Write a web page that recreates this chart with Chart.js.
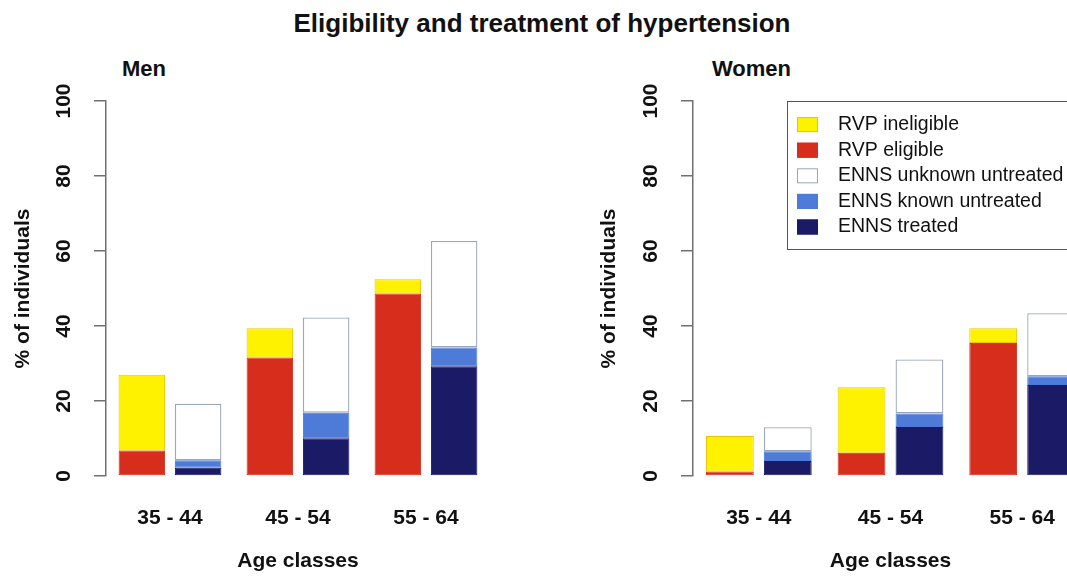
<!DOCTYPE html>
<html>
<head>
<meta charset="utf-8">
<script src="https://cdn.jsdelivr.net/npm/chart.js@4.4.1/dist/chart.umd.min.js"></script>
<style>
  html, body { margin: 0; padding: 0; background: #fff; }
  body { position: relative; width: 1067px; height: 576px; overflow: hidden;
         font-family: "Liberation Sans", Arial, sans-serif; color: #111; }
  .title { position: absolute; left: 0; width: 1084px; top: 10px; text-align: center;
           font-weight: bold; font-size: 26px; line-height: 1; }
  .panel { position: absolute; top: 58px; font-weight: bold; font-size: 22px; line-height: 1; }
  canvas { position: absolute; top: 0; }
</style>
</head>
<body>
<div class="title">Eligibility and treatment of hypertension</div>
<div class="panel" style="left:122px">Men</div>
<div class="panel" style="left:712px">Women</div>
<canvas id="menChart" width="490" height="576" style="left:0"></canvas>
<canvas id="womenChart" width="501" height="576" style="left:587px"></canvas>
<script>
// Data (% of individuals)
const ageClasses = ['35 - 44', '45 - 54', '55 - 64'];
const yTicks = [0, 20, 40, 60, 80, 100];

const menRvpEligible = [6.8, 31.6, 48.7];
const menRvpIneligible = [20.2, 7.8, 3.8];
const menEnnsTreated = [2.2, 10.1, 29.3];
const menEnnsKnown = [2.0, 6.8, 5.0];
const menEnnsUnknown = [15.1, 25.4, 28.4];

const womenRvpEligible = [1.2, 6.2, 35.5];
const womenRvpIneligible = [9.5, 17.5, 3.9];
const womenEnnsTreated = [4.0, 13.1, 24.3];
const womenEnnsKnown = [2.6, 3.6, 2.3];
const womenEnnsUnknown = [6.4, 14.4, 16.8];

// series, bottom of each stack first
const seriesNames = ['RVP eligible', 'RVP ineligible', 'ENNS treated', 'ENNS known untreated', 'ENNS unknown untreated'];
const seriesStacks = ['RVP', 'RVP', 'ENNS', 'ENNS', 'ENNS'];
const seriesColors = ['#d62d1c', '#fff200', '#1b1a66', '#4e7bd8', '#ffffff'];
const seriesBorders = ['#d62d1c', '#ecc400', '#1b1a66', '#4e7bd8', '#9aa6bd'];
const legendOrder = [1, 0, 4, 3, 2];

Chart.defaults.font.family = "'Liberation Sans', Arial, sans-serif";
Chart.defaults.color = '#111';

const axisGrey = '#707070';

// legend box drawn inside the plot, like R's legend()
const boxLegend = {
  id: 'boxLegend',
  afterDraw(chart, args, o) {
    if (!o.show) return;
    const ctx = chart.ctx;
    const x0 = o.x;
    const y0 = chart.chartArea.top;
    ctx.save();
    ctx.lineWidth = 1;
    ctx.strokeStyle = '#555';
    ctx.strokeRect(x0 + 0.5, y0 + 0.5, o.width, o.height);
    ctx.font = o.font;
    ctx.textBaseline = 'middle';
    legendOrder.forEach((di, k) => {
      const ds = chart.data.datasets[di];
      const cy = y0 + o.firstRow + k * o.rowGap;
      ctx.fillStyle = ds.backgroundColor;
      ctx.fillRect(x0 + o.swatchX, cy - 7.5, 21, 15);
      ctx.strokeStyle = ds.borderColor;
      ctx.strokeRect(x0 + o.swatchX + 0.5, cy - 7, 20, 14);
      ctx.fillStyle = '#111';
      ctx.fillText(ds.label, x0 + o.textX, cy);
    });
    ctx.restore();
  }
};

function makeChart(id, values, yTitlePad, legend) {
  return new Chart(document.getElementById(id), {
    type: 'bar',
    data: {
      labels: ageClasses,
      datasets: values.map((v, i) => ({
        label: seriesNames[i],
        data: v,
        stack: seriesStacks[i],
        backgroundColor: seriesColors[i],
        borderColor: seriesBorders[i],
        borderWidth: i === 4 ? 1.3 : 1,
        borderSkipped: false,
        categoryPercentage: 0.88,
        barPercentage: 0.825
      }))
    },
    options: {
      responsive: false,
      animation: false,
      devicePixelRatio: 1,
      layout: { padding: { top: 101 } },
      plugins: {
        legend: { display: false },
        tooltip: { enabled: false },
        boxLegend: legend
      },
      scales: {
        x: {
          stacked: true,
          grid: { display: false, drawTicks: false },
          border: { display: false },
          ticks: { font: { size: 21, weight: 'bold' }, padding: 30, color: '#111' },
          title: { display: true, text: 'Age classes', font: { size: 21, weight: 'bold' },
                   padding: { top: 0, bottom: 2 }, color: '#111' },
          afterFit: s => { s.height = 100; }
        },
        y: {
          stacked: true,
          min: yTicks[0],
          max: yTicks[yTicks.length - 1],
          grid: { drawOnChartArea: false, drawTicks: true, tickLength: 12, color: axisGrey, lineWidth: 1.5 },
          border: { display: true, color: axisGrey, width: 1.5 },
          ticks: {
            stepSize: yTicks[1] - yTicks[0],
            autoSkip: false,
            minRotation: 90,
            maxRotation: 90,
            crossAlign: 'center',
            padding: 12,
            font: { size: 21, weight: 'bold' },
            color: '#111'
          },
          title: { display: true, text: '% of individuals', font: { size: 21, weight: 'bold' },
                   padding: { top: yTitlePad, bottom: 0 }, color: '#111' },
          afterFit: s => { s.width = 106; }
        }
      }
    },
    plugins: [boxLegend]
  });
}

makeChart('menChart',
  [menRvpEligible, menRvpIneligible, menEnnsTreated, menEnnsKnown, menEnnsUnknown],
  11, { show: false });

makeChart('womenChart',
  [womenRvpEligible, womenRvpIneligible, womenEnnsTreated, womenEnnsKnown, womenEnnsUnknown],
  9.5, { show: true, x: 200, width: 330, height: 148, swatchX: 10, textX: 51,
         firstRow: 23.6, rowGap: 25.6, font: "19.5px 'Liberation Sans', Arial, sans-serif" });
</script>
</body>
</html>
